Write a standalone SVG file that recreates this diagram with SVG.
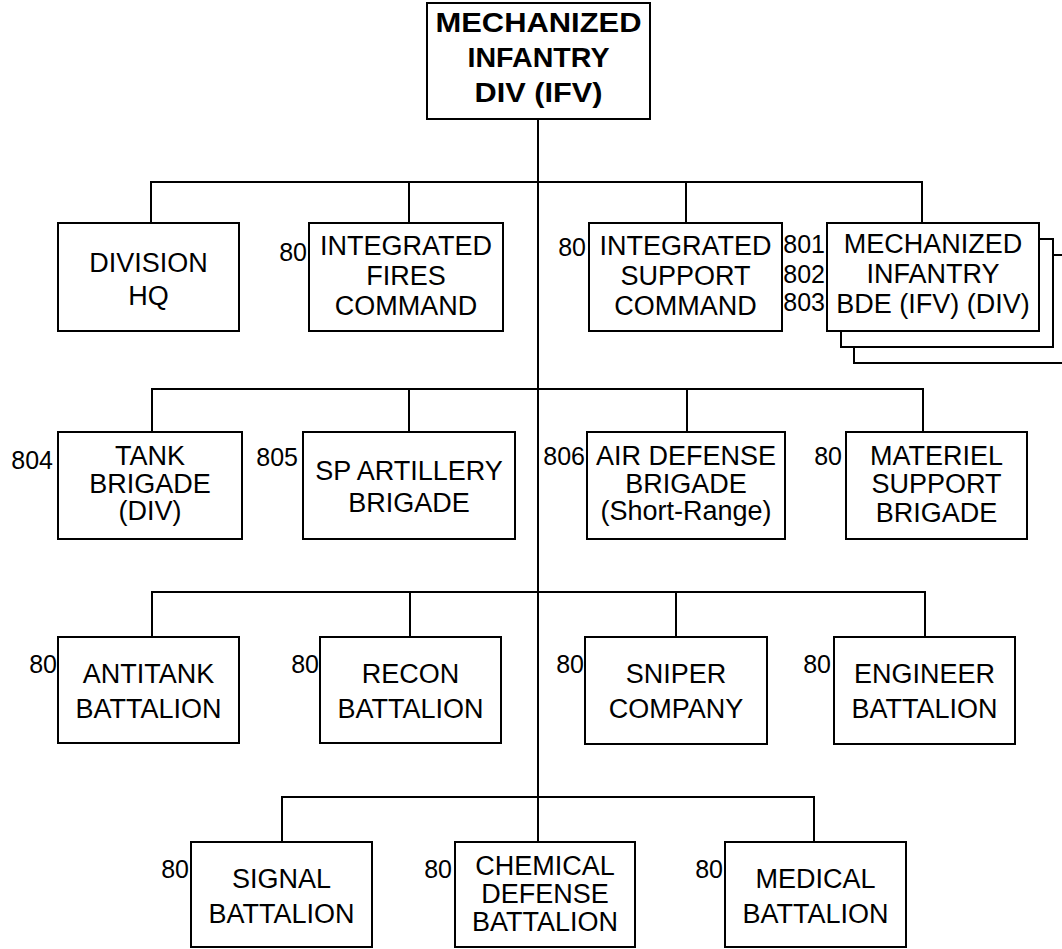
<svg xmlns="http://www.w3.org/2000/svg" width="1062" height="949" viewBox="0 0 1062 949">
<style>
.box{fill:#fff;stroke:#000;stroke-width:2}
.ln{fill:none;stroke:#000;stroke-width:2}
.t{font-family:"Liberation Sans",Arial,sans-serif;font-size:27px;text-anchor:middle;fill:#000}
.tb{font-family:"Liberation Sans",Arial,sans-serif;font-size:28px;font-weight:bold;text-anchor:middle;fill:#000}
.n{font-family:"Liberation Sans",Arial,sans-serif;font-size:25px;text-anchor:end;fill:#000}
</style>
<rect width="1062" height="949" fill="#fff"/>
<g id="connectors">
<path class="ln" d="M538,119 V842"/>
<path class="ln" d="M151,223 V182 H922 V223 M409,182 V223 M686,182 V223"/>
<path class="ln" d="M152,432 V389 H923 V432 M409,389 V432 M687,389 V432"/>
<path class="ln" d="M152,637 V592 H925 V637 M410,592 V637 M676,592 V637"/>
<path class="ln" d="M282,842 V797 H814 V842"/>
</g>
<g id="div">
<rect class="box" x="427" y="3" width="223" height="116"/>
<text class="tb"><tspan x="538.5" y="32" textLength="206" lengthAdjust="spacingAndGlyphs">MECHANIZED</tspan><tspan x="538.5" y="67" textLength="142" lengthAdjust="spacingAndGlyphs">INFANTRY</tspan><tspan x="538.5" y="102" textLength="128" lengthAdjust="spacingAndGlyphs">DIV (IFV)</tspan></text>
</g>
<g id="divhq">
<rect class="box" x="58" y="223" width="181" height="108"/>
<text class="t"><tspan x="148.5" y="272">DIVISION</tspan><tspan x="148.5" y="305">HQ</tspan></text>
</g>
<g id="ifc">
<rect class="box" x="309" y="223" width="194" height="108"/>
<text class="n" x="307" y="261">80</text>
<text class="t"><tspan x="406" y="255">INTEGRATED</tspan><tspan x="406" y="285">FIRES</tspan><tspan x="406" y="315">COMMAND</tspan></text>
</g>
<g id="isc">
<rect class="box" x="589" y="223" width="193" height="108"/>
<text class="n" x="586" y="256">80</text>
<text class="t"><tspan x="685.5" y="255">INTEGRATED</tspan><tspan x="685.5" y="285">SUPPORT</tspan><tspan x="685.5" y="315">COMMAND</tspan></text>
</g>
<g id="mechbde">
<rect class="box" x="854" y="255" width="214" height="108"/>
<rect class="box" x="841" y="239" width="212" height="108"/>
<rect class="box" x="827" y="223" width="212" height="108"/>
<text class="n"><tspan x="825" y="253">801</tspan><tspan x="825" y="283">802</tspan><tspan x="825" y="311">803</tspan></text>
<text class="t"><tspan x="933" y="253">MECHANIZED</tspan><tspan x="933" y="283">INFANTRY</tspan><tspan x="933" y="313">BDE (IFV) (DIV)</tspan></text>
</g>
<g id="tank">
<rect class="box" x="58" y="432" width="184" height="107"/>
<text class="n" x="53" y="469">804</text>
<text class="t"><tspan x="150" y="465">TANK</tspan><tspan x="150" y="493">BRIGADE</tspan><tspan x="150" y="520">(DIV)</tspan></text>
</g>
<g id="spart">
<rect class="box" x="303" y="432" width="212" height="107"/>
<text class="n" x="298" y="466">805</text>
<text class="t"><tspan x="409" y="480">SP ARTILLERY</tspan><tspan x="409" y="512">BRIGADE</tspan></text>
</g>
<g id="airdef">
<rect class="box" x="587" y="432" width="198" height="107"/>
<text class="n" x="585" y="465">806</text>
<text class="t"><tspan x="686" y="465">AIR DEFENSE</tspan><tspan x="686" y="493">BRIGADE</tspan><tspan x="686" y="520">(Short-Range)</tspan></text>
</g>
<g id="materiel">
<rect class="box" x="846" y="432" width="181" height="107"/>
<text class="n" x="842" y="465">80</text>
<text class="t"><tspan x="936.5" y="465">MATERIEL</tspan><tspan x="936.5" y="493">SUPPORT</tspan><tspan x="936.5" y="522">BRIGADE</tspan></text>
</g>
<g id="antitank">
<rect class="box" x="58" y="637" width="181" height="106"/>
<text class="n" x="57" y="673">80</text>
<text class="t"><tspan x="148.5" y="683">ANTITANK</tspan><tspan x="148.5" y="718">BATTALION</tspan></text>
</g>
<g id="recon">
<rect class="box" x="320" y="637" width="181" height="106"/>
<text class="n" x="319" y="673">80</text>
<text class="t"><tspan x="410.5" y="683">RECON</tspan><tspan x="410.5" y="718">BATTALION</tspan></text>
</g>
<g id="sniper">
<rect class="box" x="585" y="637" width="182" height="107"/>
<text class="n" x="584" y="673">80</text>
<text class="t"><tspan x="676" y="683">SNIPER</tspan><tspan x="676" y="718">COMPANY</tspan></text>
</g>
<g id="engineer">
<rect class="box" x="834" y="637" width="181" height="107"/>
<text class="n" x="831" y="673">80</text>
<text class="t"><tspan x="924.5" y="683">ENGINEER</tspan><tspan x="924.5" y="718">BATTALION</tspan></text>
</g>
<g id="signal">
<rect class="box" x="191" y="842" width="181" height="105"/>
<text class="n" x="189" y="878">80</text>
<text class="t"><tspan x="281.5" y="888">SIGNAL</tspan><tspan x="281.5" y="923">BATTALION</tspan></text>
</g>
<g id="chemical">
<rect class="box" x="455" y="842" width="180" height="105"/>
<text class="n" x="452" y="878">80</text>
<text class="t"><tspan x="545" y="875">CHEMICAL</tspan><tspan x="545" y="903">DEFENSE</tspan><tspan x="545" y="931">BATTALION</tspan></text>
</g>
<g id="medical">
<rect class="box" x="725" y="842" width="181" height="105"/>
<text class="n" x="723" y="878">80</text>
<text class="t"><tspan x="815.5" y="888">MEDICAL</tspan><tspan x="815.5" y="923">BATTALION</tspan></text>
</g>
</svg>
